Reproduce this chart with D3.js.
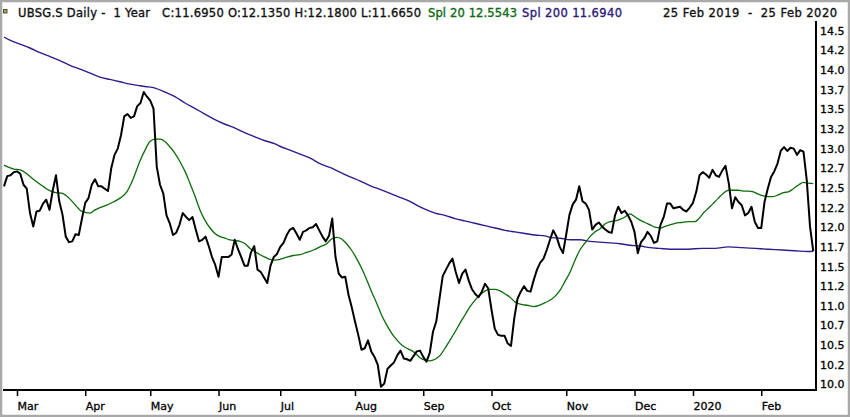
<!DOCTYPE html>
<html><head><meta charset="utf-8">
<script src="https://cdn.jsdelivr.net/npm/d3@7"></script>
<style>
html,body{margin:0;padding:0;background:#fff;}
svg text{font-family:"DejaVu Sans",Verdana,sans-serif;white-space:pre;}
</style></head>
<body>
<svg id="chart" width="850" height="417"></svg>
<script>
// ---- data ----
const price = [12.52,12.65,12.66,12.70,12.71,12.68,12.54,12.49,12.18,12.01,
12.20,12.21,12.30,12.35,12.22,12.47,12.66,12.33,12.16,11.88,
11.81,11.82,11.91,11.90,12.11,12.31,12.37,12.54,12.61,12.52,
12.52,12.49,12.46,12.75,12.92,13.00,13.17,13.41,13.44,13.39,
13.41,13.54,13.58,13.72,13.66,13.61,13.51,12.77,12.54,12.43,
12.15,12.05,11.90,11.93,12.03,12.18,12.13,12.09,12.13,11.97,
11.82,11.84,11.88,11.76,11.62,11.52,11.37,11.62,11.62,11.62,
11.65,11.84,11.72,11.62,11.51,11.51,11.68,11.76,11.46,11.43,
11.36,11.29,11.51,11.62,11.66,11.75,11.80,11.90,11.97,11.99,
11.92,11.84,11.94,11.96,11.99,12.00,12.04,11.96,11.88,11.82,
11.89,12.11,11.62,11.41,11.36,11.37,11.14,10.98,10.80,10.63,
10.44,10.46,10.56,10.42,10.35,10.25,9.97,10.01,10.20,10.24,
10.28,10.37,10.43,10.33,10.32,10.30,10.36,10.42,10.43,10.35,
10.29,10.40,10.67,10.80,11.09,11.38,11.46,11.54,11.60,11.43,
11.29,11.41,11.46,11.32,11.21,11.15,11.11,11.18,11.28,11.22,
10.95,10.71,10.63,10.62,10.62,10.52,10.49,10.84,11.09,11.18,
11.25,11.19,11.18,11.33,11.46,11.55,11.60,11.71,11.84,11.96,
11.88,11.75,11.67,11.91,12.16,12.29,12.35,12.52,12.33,12.30,
12.22,11.97,12.03,12.06,12.01,11.97,11.94,11.93,12.15,12.26,
12.18,12.21,12.15,12.07,11.94,11.67,11.81,11.86,11.94,11.89,
11.80,11.82,12.03,12.13,12.30,12.30,12.24,12.25,12.26,12.22,
12.20,12.25,12.31,12.45,12.66,12.70,12.67,12.63,12.73,12.66,
12.64,12.72,12.78,12.56,12.24,12.38,12.32,12.28,12.15,12.18,
12.26,12.07,11.99,11.99,12.32,12.49,12.64,12.71,12.81,12.97,
13.02,12.97,13.01,13.00,12.92,12.98,12.96,12.60,12.01,11.695];

// Spl 20 readings: [trading-day index, value]
const spl20 = [[0,12.79],[3,12.74],[5,12.73],[7,12.68],[9,12.61],[11,12.55],[13,12.49],[15,12.45],
[16,12.44],[18,12.43],[20,12.37],[22,12.28],[24,12.20],[26.5,12.18],[28,12.22],[29.5,12.25],
[31.6,12.28],[33.6,12.32],[35.7,12.37],[37.8,12.45],[39.8,12.62],[41.8,12.84],[43.4,12.98],
[44.9,13.09],[46.5,13.12],[48,13.12],[49.5,13.09],[51.1,13.02],[52.6,12.94],[54.2,12.83],
[55.7,12.71],[57.2,12.56],[58.8,12.39],[60.3,12.22],[61.8,12.09],[63.4,11.99],[64.9,11.92],
[66.5,11.88],[68,11.86],[69.5,11.84],[71.1,11.83],[72.6,11.82],[74.2,11.79],[75.7,11.73],
[77.2,11.69],[78.8,11.65],[80.3,11.62],[81.8,11.59],[83.4,11.58],[84.9,11.59],[87,11.62],
[89,11.64],[91.1,11.65],[93.1,11.68],[95.2,11.71],[97.2,11.75],[99.3,11.79],[100.5,11.84],
[102.4,11.87],[103.9,11.85],[105.4,11.79],[106.9,11.71],[108.5,11.60],[110,11.48],[111.6,11.33],
[113.1,11.18],[114.7,11.03],[116.2,10.88],[117.7,10.76],[119.3,10.65],[120.8,10.57],[122.4,10.50],
[123.9,10.46],[125,10.44],[126.5,10.40],[128,10.34],[129.5,10.31],[131.1,10.30],[132.6,10.32],
[134.2,10.37],[135.7,10.46],[137.2,10.56],[138.8,10.67],[140.3,10.78],[141.8,10.88],[143.4,10.99],
[144.9,11.07],[146.5,11.14],[148,11.19],[149.5,11.21],[151.1,11.21],[152.6,11.19],[154.2,11.15],
[155.7,11.11],[157.2,11.05],[158.8,11.02],[160.3,11.01],[161.8,11.00],[162.9,10.99],[164.9,11.01],
[166.5,11.04],[168,11.07],[169.5,11.12],[171.1,11.20],[172.6,11.31],[174.2,11.43],[175.7,11.58],
[177.2,11.71],[178.8,11.80],[180.3,11.88],[181.8,11.94],[183.4,11.98],[184.9,12.04],[186.5,12.07],
[188,12.08],[189.5,12.10],[191.1,12.13],[192.6,12.17],[194.2,12.13],[195.7,12.09],[197.2,12.06],
[198.8,12.03],[200.3,12.00],[201.8,11.99],[203.4,12.01],[204.9,12.03],[206.5,12.05],[208.5,12.06],
[210.6,12.07],[212.6,12.07],[213.6,12.10],[215.2,12.18],[216.7,12.24],[218.2,12.30],[219.8,12.37],
[221.3,12.43],[222.9,12.47],[224.4,12.47],[226,12.47],[227.5,12.46],[229,12.46],[230.6,12.45],
[232.1,12.42],[233.6,12.40],[235.2,12.39],[236.7,12.39],[238.2,12.41],[239.8,12.44],[241.3,12.45],
[242.9,12.49],[244.6,12.54],[245.9,12.57],[247.5,12.56],[249,12.5543]];

// Spl 200 readings: [trading-day index, value]
const spl200 = [[0,14.42],[1.8,14.38],[4.9,14.33],[8,14.28],[11.1,14.22],[14.2,14.17],[17.2,14.12],
[20.3,14.06],[23.4,14.01],[26.5,13.96],[29.5,13.91],[32.6,13.88],[35.7,13.85],[38.8,13.82],
[41.8,13.80],[43.4,13.79],[46.5,13.77],[49.5,13.72],[52.6,13.66],[55.7,13.58],[58.8,13.51],
[61.8,13.44],[64.9,13.37],[68,13.31],[71.1,13.26],[74.2,13.20],[77.2,13.15],[80.3,13.10],
[83.4,13.06],[84.9,13.03],[88,12.98],[91.1,12.93],[94.2,12.88],[97.2,12.81],[100.3,12.76],
[103.4,12.70],[106.5,12.64],[109.5,12.59],[112.6,12.53],[115.7,12.48],[118.8,12.43],[121.8,12.38],
[124.9,12.33],[126.5,12.29],[129.5,12.23],[132.6,12.18],[135.7,12.15],[138.8,12.11],[141.8,12.08],
[144.9,12.05],[148,12.02],[151.1,11.99],[154.2,11.96],[157.2,11.94],[160.3,11.92],[163.4,11.90],
[166.5,11.89],[168,11.87],[171.1,11.86],[174.2,11.84],[177.2,11.84],[180.3,11.82],[183.4,11.81],
[186.5,11.80],[189.5,11.79],[192.6,11.77],[195.7,11.76],[198.8,11.74],[201.8,11.73],[204.9,11.72],
[208,11.72],[210.5,11.72],[214.8,11.73],[218.8,11.73],[222.8,11.75],[227.1,11.74],[231.1,11.73],
[235.1,11.72],[239.4,11.71],[243.4,11.70],[247.4,11.69],[249,11.694]];

const monthIdx = [4,25,45,66,85,108,129,150,173,194,212,233];
const monthLabels = ["Mar","Apr","May","Jun","Jul","Aug","Sep","Oct","Nov","Dec","2020","Feb"];
const yTicks = [14.5,14.25,14.0,13.75,13.5,13.25,13.0,12.75,12.5,12.25,12.0,11.75,11.5,11.25,11.0,10.75,10.5,10.25,10.0];
const yTickLabels = ["14.5","14.2","14.0","13.7","13.5","13.2","13.0","12.7","12.5","12.2","12.0","11.7","11.5","11.2","11.0","10.7","10.5","10.2","10.0"];
const headerMain = "UBSG.S Daily -  1 Year   C:11.6950 O:12.1350 H:12.1800 L:11.6650";
const header20 = "Spl 20 12.5543";
const header200 = "Spl 200 11.6940";
const headerRange = "25 Feb 2019  -  25 Feb 2020";

// ---- drawing ----
const svg = d3.select("#chart");
const x = d3.scaleLinear().domain([0, 249]).range([4, 813.25]);
const y = d3.scaleLinear().domain([10, 14.5]).range([384.4, 30.7]);

svg.append("rect").attr("x",1).attr("y",1).attr("width",848).attr("height",415)
  .attr("fill","#fff").attr("stroke","#a9a9a9").attr("stroke-width",2.5);

// header
svg.append("rect").attr("x",3.5).attr("y",9.5).attr("width",3.5).attr("height",3.5)
  .attr("fill","#b5a640").attr("stroke","#333").attr("stroke-width",0.8);
const hy = 16.5;
function headerText(str, x0, x1, color) {
  svg.append("text").attr("x",x0).attr("y",hy).attr("font-size",11.5)
    .attr("fill",color).attr("stroke",color).attr("stroke-width",0.35)
    .attr("textLength",x1-x0).attr("lengthAdjust","spacing").text(str);
}
headerText(headerMain, 18, 421, "#111");
headerText(header20, 428, 517, "#0d6a12");
headerText(header200, 522, 622, "#2d1a78");
headerText(headerRange, 663, 837, "#111");

// lines
const lineP = d3.line().x((d,i)=>x(i)).y(d=>y(d));
const lineS = d3.line().x(d=>x(d[0])).y(d=>y(d[1])).curve(d3.curveMonotoneX);

svg.append("path").datum(spl200).attr("d",lineS).attr("fill","none")
  .attr("stroke","#2f1b8c").attr("stroke-width",1.4);
svg.append("path").datum(spl20).attr("d",lineS).attr("fill","none")
  .attr("stroke","#0b6b0b").attr("stroke-width",1.3);
svg.append("path").datum(price).attr("d",lineP).attr("fill","none")
  .attr("stroke","#000").attr("stroke-width",2).attr("stroke-linejoin","round");

// right axis
const yAxis = d3.axisRight(y).tickValues(yTicks).tickSize(0).tickPadding(4)
  .tickFormat((d,i)=>yTickLabels[i]);
const gy = svg.append("g").attr("transform","translate(816,0)").call(yAxis);
gy.select(".domain").remove();
gy.selectAll("text").attr("font-size",11).attr("fill","#000").attr("stroke","#000")
  .attr("stroke-width",0.3).attr("font-family","DejaVu Sans");
svg.append("line").attr("x1",816).attr("x2",816).attr("y1",21).attr("y2",391)
  .attr("stroke","#000").attr("stroke-width",2);

// bottom axis
const xAxis = d3.axisBottom(x).tickValues(monthIdx).tickSize(6).tickPadding(5)
  .tickFormat((d,i)=>monthLabels[i]);
const gx = svg.append("g").attr("transform","translate(0,390)").call(xAxis);
gx.select(".domain").remove();
gx.selectAll(".tick line").attr("stroke","#000").attr("stroke-width",1.5);
gx.selectAll("text").attr("font-size",11).attr("fill","#000").attr("stroke","#000")
  .attr("stroke-width",0.3).attr("text-anchor","start")
  .attr("x",0).attr("dy","0.8em").attr("font-family","DejaVu Sans");
svg.append("line").attr("x1",3).attr("x2",817).attr("y1",390).attr("y2",390)
  .attr("stroke","#000").attr("stroke-width",2);
</script>
</body></html>
